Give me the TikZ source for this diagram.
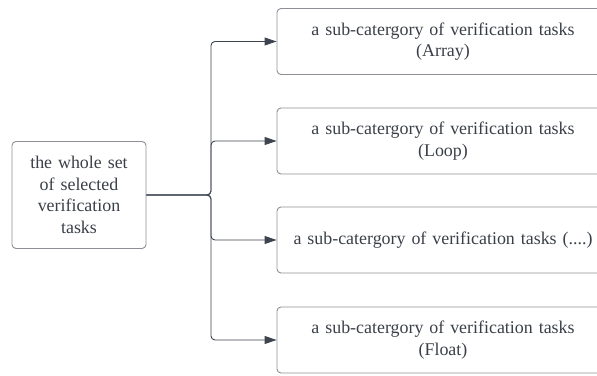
\documentclass[tikz,border=0pt]{standalone}
\usepackage{fontspec}
\setmainfont{Liberation Serif}
\usetikzlibrary{arrows.meta}
\definecolor{boxline}{HTML}{8C9096}
\definecolor{conline}{HTML}{3E4550}
\definecolor{txtgray}{HTML}{3A3F47}
\tikzset{
   task/.style={draw=boxline, line width=0.9pt, rounded corners=4pt,
      text=txtgray, align=center, font=\fontsize{17.9}{21.5}\selectfont},
   whole/.style={task, minimum width=134pt, minimum height=107pt, text width=122pt},
   subtask/.style={task, minimum width=332pt, minimum height=66pt, text width=320pt},
   branch/.style={draw=conline, line width=0.9pt, rounded corners=4pt,
      -{Triangle[length=12pt,width=8pt]}},
   }

\begin{document}
\begin{tikzpicture}[x=1pt,y=1pt]
            \useasboundingbox (0,0) rectangle (597,375);
            \clip (0,0) rectangle (597,375);
            \node[whole] (all) at (79,180) {the whole set\\of selected\\verification\\tasks};
            \node[subtask] (array) at (443,333.5) {a sub-catergory of verification tasks\\(Array)};
            \node[subtask] (loop) at (443,234) {a sub-catergory of verification tasks\\(Loop)};
            \node[subtask] (other) at (443,135) {a sub-catergory of verification tasks (....)};
            \node[subtask] (float) at (443,35) {a sub-catergory of verification tasks\\(Float)};
            \coordinate (fork) at (211,180);
            \draw[branch] (all.east) -- (fork) |- (array.west);
            \draw[branch] (all.east) -- (fork) |- (loop.west);
            \draw[branch] (all.east) -- (fork) |- (other.west);
            \draw[branch] (all.east) -- (fork) |- (float.west);
            
        \end{tikzpicture}
\end{document}
